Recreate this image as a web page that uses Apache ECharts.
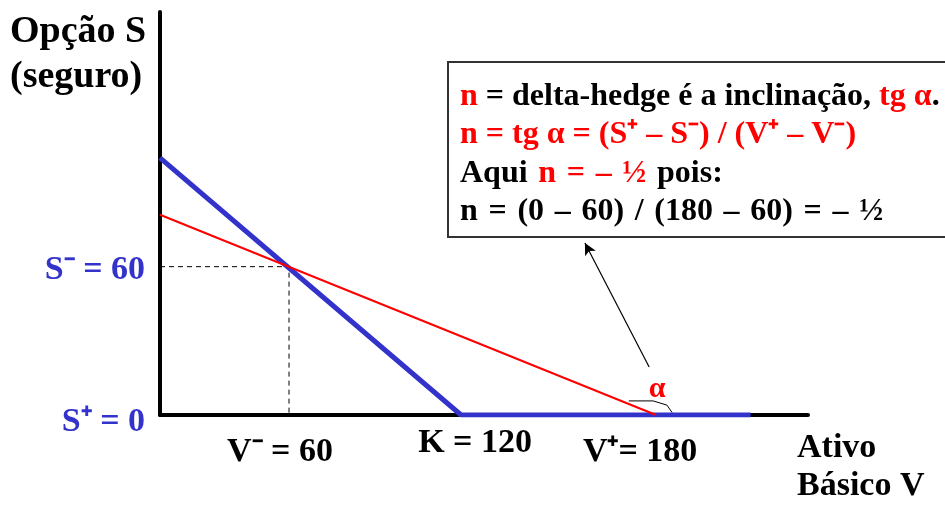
<!DOCTYPE html>
<html>
<head>
<meta charset="utf-8">
<script src="https://cdn.jsdelivr.net/npm/echarts@6/dist/echarts.min.js"></script>
<style>
    html, body { margin: 0; padding: 0; background: #fff; }
    #main { width: 945px; height: 506px; }
</style>
</head>
<body>
<div id="main"></div>
<script>
    // eixos: Ativo Básico V (x) e Opção S (y)
    var xRange = [15, 241];
    var yRange = [0, 163];

    // linha azul: valor da opção S = max(K - V, 0)
    var payoff = [[15, 104], [120, 0], [221, 0]];
    // linha vermelha: inclinação n (delta-hedge)
    var hedge = [[15, 81], [188, 0]];
    // tracejado até (V-, S-)
    var guide = [[15, 60], [60, 60], [60, 0]];
    // pequeno arco do ângulo alfa
    var alphaMark = [[178.5, 5.7], [187, 5.7], [191.8, 4], [193.6, 1]];
    // seta do alfa até a caixa
    var arrowFrom = [185.6, 19.4];
    var arrowTo = [163.2, 69.6];

    var xTicks = [60, 120, 180];
    var xTickLabels = ['V⁻ = 60', 'K = 120', 'V⁺= 180'];
    var yTicks = [60, 0];
    var yTickLabels = ['S⁻ = 60', 'S⁺ = 0'];

    // \u2004 = espaço um pouco mais largo, como no original
    var boxLines = [
        [['r', 'n'], ['k', ' = delta-hedge é a inclinação, '], ['r', 'tg α'], ['k', '.']],
        [['r', 'n = tg α = (S⁺ – S⁻) / (V⁺ – V⁻)']],
        [['k', 'Aqui\u2004'], ['r', 'n\u2004=\u2004–\u2004½'], ['k', '\u2004pois:']],
        [['k', 'n\u2004=\u2004(0\u2004–\u200460)\u2004/\u2004(180\u2004–\u200460)\u2004=\u2004–\u2004½']]
    ];

    var serif = "'Liberation Serif', 'Times New Roman', serif";
    var blue = '#3333cc';
    var red = '#ff0000';

    var myChart = echarts.init(document.getElementById('main'));

    var axisCommon = {
        type: 'value',
        axisLine: { show: true, onZero: false, lineStyle: { color: '#000', width: 4 } },
        axisTick: { show: false },
        axisLabel: { show: false },
        splitLine: { show: false }
    };

    option = {
        animation: false,
        grid: { left: 160, right: 137, top: 12, bottom: 91 },
        xAxis: Object.assign({ min: xRange[0], max: xRange[1] }, axisCommon),
        yAxis: Object.assign({ min: yRange[0], max: yRange[1] }, axisCommon),
        series: [
            {
                type: 'line',
                data: guide,
                symbol: 'none',
                silent: true,
                lineStyle: { color: '#000', width: 1, type: [5, 4] },
                z: 1
            },
            {
                type: 'line',
                data: payoff,
                symbol: 'none',
                silent: true,
                lineStyle: { color: blue, width: 5 },
                z: 3
            },
            {
                type: 'line',
                data: hedge,
                symbol: 'none',
                silent: true,
                lineStyle: { color: red, width: 2 },
                z: 4,
                markLine: {
                    silent: true,
                    symbol: ['none', 'arrow'],
                    symbolSize: [9, 12],
                    label: { show: false },
                    lineStyle: { color: '#000', width: 1.2, type: 'solid' },
                    data: [[{ coord: arrowFrom }, { coord: arrowTo }]]
                }
            },
            {
                type: 'line',
                data: alphaMark,
                symbol: 'none',
                silent: true,
                lineStyle: { color: '#000', width: 1 },
                z: 5
            }
        ]
    };
    myChart.setOption(option);

    // textos posicionados a partir das escalas do gráfico
    var graphics = [];
    var xShift = [-9, 14, 7];
    var xDown = [37, 28, 37];
    xTicks.forEach(function (v, i) {
        var p = myChart.convertToPixel({ gridIndex: 0 }, [v, 0]);
        graphics.push({
            type: 'text',
            x: p[0] + xShift[i],
            y: p[1] + xDown[i],
            style: {
                text: xTickLabels[i],
                font: 'bold 34px ' + serif,
                fill: '#000',
                align: 'center',
                verticalAlign: 'middle'
            }
        });
    });
    var yDown = [4, 7];
    yTicks.forEach(function (v, i) {
        var p = myChart.convertToPixel({ gridIndex: 0 }, [xRange[0], v]);
        graphics.push({
            type: 'text',
            x: p[0] - 15,
            y: p[1] + yDown[i],
            style: {
                text: yTickLabels[i],
                font: 'bold 34px ' + serif,
                fill: blue,
                align: 'right',
                verticalAlign: 'middle'
            }
        });
    });

    // alfa
    var pa = myChart.convertToPixel({ gridIndex: 0 }, [alphaMark[1][0], alphaMark[1][1]]);
    graphics.push({
        type: 'text',
        x: pa[0] + 4,
        y: pa[1] - 12,
        style: { text: 'α', font: 'bold 30px ' + serif, fill: red, align: 'center', verticalAlign: 'middle' }
    });

    // títulos dos eixos
    graphics.push({
        type: 'text',
        x: 10,
        y: 10,
        style: { text: 'Opção S\n(seguro)', font: 'bold 38px ' + serif, fill: '#000', lineHeight: 45 }
    });
    graphics.push({
        type: 'text',
        x: 797,
        y: 429,
        style: { text: 'Ativo\nBásico V', font: 'bold 34px ' + serif, fill: '#000', lineHeight: 38 }
    });

    // caixa de explicação
    var rich = boxLines.map(function (line) {
        return line.map(function (seg) {
            return '{' + seg[0] + '|' + seg[1] + '}';
        }).join('');
    }).join('\n');
    graphics.push({
        type: 'rect',
        shape: { x: 448, y: 62, width: 520, height: 175 },
        style: { fill: '#fff', stroke: '#333', lineWidth: 2 },
        z: 10
    });
    graphics.push({
        type: 'text',
        x: 460,
        y: 77,
        z: 11,
        style: {
            text: rich,
            font: 'bold 32px ' + serif,
            lineHeight: 38.5,
            rich: {
                r: { fill: red, font: 'bold 32px ' + serif, lineHeight: 38.5 },
                k: { fill: '#000', font: 'bold 32px ' + serif, lineHeight: 38.5 }
            }
        }
    });

    myChart.setOption({ graphic: graphics });
</script>
</body>
</html>
